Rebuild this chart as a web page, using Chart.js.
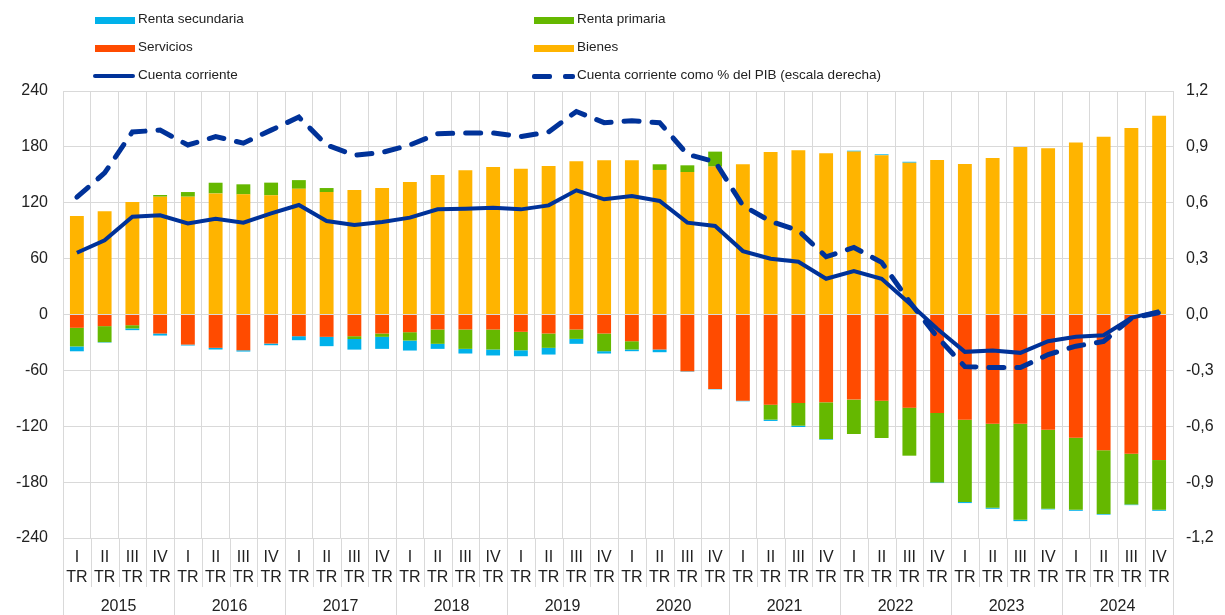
<!DOCTYPE html>
<html>
<head>
<meta charset="utf-8">
<script src="https://cdn.jsdelivr.net/npm/chart.js@4.4.1/dist/chart.umd.min.js"></script>
<style>
  html, body { margin: 0; padding: 0; background: #fff; }
  #wrap { position: relative; width: 1225px; height: 615px; }
  canvas { position: absolute; left: 0; top: 0; }
  .leg { position: absolute; font-family: "Liberation Sans", Arial, sans-serif; font-size: 13.5px; color: #222; white-space: nowrap; line-height: 16px; }
  .sw { position: absolute; }
</style>
</head>
<body>
<div id="wrap">
  <canvas id="chart" width="1225" height="615"></canvas>
  <div id="legend"></div>
</div>
<script>
// quarters 2015 I TR ... 2024 IV TR
const years = ["2015", "2016", "2017", "2018", "2019", "2020", "2021", "2022", "2023", "2024"];
const quarters = ["I", "II", "III", "IV"];

// EUR mm
const bienes = [105.7, 111, 120.8, 126.5, 126.5, 130, 129, 128, 135, 131.5,
  133.7, 135.8, 142.3, 149.8, 154.8, 158.4, 156.6, 159.5, 164.5, 165.6,
  165.6, 155.2, 153, 158.8, 161.3, 174.6, 176.3, 173.1, 174.9, 171,
  163, 165.9, 161.6, 168.1, 180, 178.5, 184.6, 191, 200.4, 213.3];
const servicios = [-14.3, -12.5, -11.5, -20.4, -32.3, -35.8, -38.4, -31.2, -23.3, -24,
  -23.3, -20.4, -19, -16.1, -16.1, -16.1, -18.6, -20.4, -16.1, -20.4,
  -28.7, -37.6, -61, -79.9, -92.5, -96.8, -95, -94.3, -91.4, -92.5,
  -100, -105.7, -112.9, -117.2, -117.2, -123.7, -132.3, -145.9, -149.5, -156.3];
const rentaPrimaria = [-20, -17.2, -3.5, 1.8, 5, 11.5, 10.8, 13.6, 9.3, 4.3,
  -3, -3.6, -9, -15.4, -20.8, -21.5, -19.8, -15.4, -10.1, -19,
  -8.9, 6.1, 7.2, 16.1, 0, -16.1, -24.4, -39.4, -36.9, -40.1,
  -51.6, -74.6, -88.5, -90.3, -103.2, -84.9, -77.4, -68.4, -54.5, -53.4];
const rentaSecundaria = [-5.2, -0.5, -1.8, -2.2, -1, -1.8, -1.4, -1.8, -4.3, -10,
  -11.4, -12.9, -10.7, -5.4, -5, -6.4, -6.4, -7.2, -5.3, -2.5,
  -1.8, -2.9, -0.5, -0.5, -0.7, -1.4, -1.4, -0.7, 1, 1,
  1, -0.7, -1.1, -1.1, -1.5, -0.7, -1.1, -0.7, -0.7, -1.1];
const cuentaCorriente = [66.3, 79.6, 105, 106.5, 97.8, 102.9, 98.6, 108.6, 117.6, 100.4,
  96, 99.3, 104, 112.9, 113.6, 114.7, 112.9, 117.2, 133.3, 123.7,
  127.2, 121.9, 98.6, 95, 68.1, 59.9, 56.6, 38.4, 46.6, 38.4,
  12, -15.4, -40.1, -38.7, -41.2, -28.7, -24, -22.2, -3.6, 3.6];
// % del PIB (escala derecha)
const cuentaCorrientePib = [0.63, 0.76, 0.98, 0.99, 0.91, 0.955, 0.92, 0.99, 1.06, 0.91,
  0.855, 0.87, 0.91, 0.97, 0.975, 0.975, 0.955, 0.98, 1.09, 1.03,
  1.04, 1.03, 0.86, 0.82, 0.585, 0.5, 0.45, 0.31, 0.36, 0.28,
  0.07, -0.12, -0.28, -0.285, -0.285, -0.215, -0.17, -0.145, -0.02, 0.01];

const labels = [];
years.forEach(() => quarters.forEach((q) => labels.push([q, "TR"])));

const colors = {
  bienes: "#FFB400",
  servicios: "#FF4B00",
  primaria: "#65B800",
  secundaria: "#00B1EA",
  linea: "#003299",
  grid: "#d9d9d9",
};

// legend (html)
const legendItems = [
  { text: "Renta secundaria", type: "bar", color: colors.secundaria, x: 95, y: 20 },
  { text: "Renta primaria", type: "bar", color: colors.primaria, x: 534, y: 20 },
  { text: "Servicios", type: "bar", color: colors.servicios, x: 95, y: 48 },
  { text: "Bienes", type: "bar", color: colors.bienes, x: 534, y: 48 },
  { text: "Cuenta corriente", type: "line", color: colors.linea, x: 95, y: 76 },
  { text: "Cuenta corriente como % del PIB (escala derecha)", type: "dash", color: colors.linea, x: 532, y: 76 },
];
const legendEl = document.getElementById("legend");
legendItems.forEach((it) => {
  if (it.type === "bar") {
    legendEl.insertAdjacentHTML("beforeend",
      `<div class="sw" style="left:${it.x}px;top:${it.y - 3}px;width:40px;height:7px;background:${it.color}"></div>`);
  } else if (it.type === "line") {
    legendEl.insertAdjacentHTML("beforeend",
      `<div class="sw" style="left:${it.x - 2}px;top:${it.y - 2}px;width:42px;height:4px;border-radius:2px;background:${it.color}"></div>`);
  } else {
    legendEl.insertAdjacentHTML("beforeend",
      `<div class="sw" style="left:${it.x}px;top:${it.y - 2}px;width:20px;height:5px;border-radius:2px;background:${it.color}"></div>` +
      `<div class="sw" style="left:${it.x + 31}px;top:${it.y - 2}px;width:12px;height:5px;border-radius:2px;background:${it.color}"></div>`);
  }
  const tx = it.type === "dash" ? it.x + 45 : it.x + 43;
  legendEl.insertAdjacentHTML("beforeend",
    `<div class="leg" style="left:${tx}px;top:${it.y - 9}px">${it.text}</div>`);
});

// year labels + long separators under the axis
const yearAxisPlugin = {
  id: "yearAxis",
  afterDraw(chart) {
    const ctx = chart.ctx;
    const x = chart.scales.x;
    const area = chart.chartArea;
    const half = (x.getPixelForValue(1) - x.getPixelForValue(0)) / 2;
    ctx.save();
    ctx.strokeStyle = colors.grid;
    ctx.lineWidth = 1;
    for (let i = 0; i <= labels.length; i++) {
      const px = Math.round(x.getPixelForValue(i) - half) + 0.5;
      const yearEdge = i % 4 === 0;
      ctx.beginPath();
      ctx.moveTo(px, area.bottom);
      ctx.lineTo(px, yearEdge ? 615 : 587);
      ctx.stroke();
    }
    ctx.fillStyle = "#222";
    ctx.font = '16px "Liberation Sans", Arial, sans-serif';
    ctx.textAlign = "center";
    ctx.textBaseline = "middle";
    years.forEach((yr, i) => {
      const cx = (x.getPixelForValue(i * 4) + x.getPixelForValue(i * 4 + 3)) / 2;
      ctx.fillText(yr, cx, 607);
    });
    ctx.restore();
  },
};

const axisFont = { family: '"Liberation Sans", Arial, sans-serif', size: 16 };

new Chart(document.getElementById("chart"), {
  data: {
    labels: labels,
    datasets: [
      {
        type: "line",
        label: "Cuenta corriente",
        data: cuentaCorriente,
        borderColor: colors.linea,
        borderWidth: 4,
        pointRadius: 0,
        tension: 0,
        yAxisID: "y",
        order: 0,
      },
      {
        type: "line",
        label: "Cuenta corriente como % del PIB (escala derecha)",
        data: cuentaCorrientePib,
        borderColor: colors.linea,
        borderWidth: 5,
        borderDash: [15, 13],
        borderCapStyle: "round",
        pointRadius: 0,
        tension: 0,
        yAxisID: "y1",
        order: 0,
      },
      { type: "bar", label: "Bienes", data: bienes, backgroundColor: colors.bienes, stack: "s", order: 1 },
      { type: "bar", label: "Servicios", data: servicios, backgroundColor: colors.servicios, stack: "s", order: 1 },
      { type: "bar", label: "Renta primaria", data: rentaPrimaria, backgroundColor: colors.primaria, stack: "s", order: 1 },
      { type: "bar", label: "Renta secundaria", data: rentaSecundaria, backgroundColor: colors.secundaria, stack: "s", order: 1 },
    ],
  },
  options: {
    responsive: false,
    animation: false,
    layout: { padding: { top: 91, bottom: 0, left: 0, right: 0 } },
    datasets: { bar: { barPercentage: 0.5, categoryPercentage: 1 } },
    plugins: { legend: { display: false }, tooltip: { enabled: false } },
    scales: {
      x: {
        stacked: true,
        grid: { offset: true, color: colors.grid, drawTicks: false },
        border: { display: false },
        ticks: { font: { ...axisFont, lineHeight: 1.25 }, color: "#222", padding: 10, maxRotation: 0, autoSkip: false },
        afterFit: (s) => { s.height = 77; },
      },
      y: {
        stacked: true,
        position: "left",
        min: -240,
        max: 240,
        grid: { color: colors.grid, drawTicks: false },
        border: { display: false },
        ticks: { stepSize: 60, font: axisFont, color: "#222", padding: 15 },
        afterFit: (s) => { s.width = 63; },
      },
      y1: {
        position: "right",
        min: -1.2,
        max: 1.2,
        grid: { display: false, drawTicks: false },
        border: { display: false },
        ticks: {
          stepSize: 0.3,
          font: axisFont,
          color: "#222",
          padding: 13,
          callback: (v) => v.toFixed(1).replace(".", ","),
        },
        afterFit: (s) => { s.width = 52; },
      },
    },
  },
  plugins: [yearAxisPlugin],
});
</script>
</body>
</html>
